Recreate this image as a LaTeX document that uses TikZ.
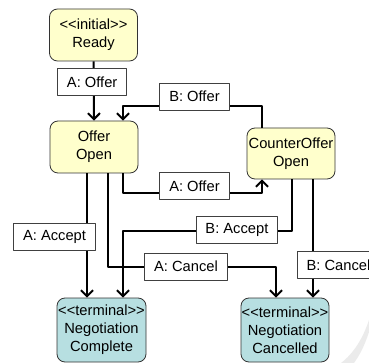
\documentclass[tikz,border=0pt]{standalone}
\usepackage{fontspec}
\setmainfont{Liberation Sans}
\usetikzlibrary{arrows.meta}

\definecolor{stateyellow}{RGB}{255,255,204}
\definecolor{statecyan}{RGB}{183,223,225}

\begin{document}
\begin{tikzpicture}[x=1pt, y=-1pt, line join=round,
  state/.style={draw=black!80, line width=0.8pt, rounded corners=8pt, align=center,
    inner sep=0pt, minimum width=88pt, font=\fontsize{14.7}{18}\selectfont},
  lbl/.style={draw=black!75, fill=white, line width=0.8pt, inner xsep=9.5pt, inner ysep=0pt,
    minimum height=27pt, font=\fontsize{14.7}{18}\selectfont},
  flow/.style={line width=2pt, -{Straight Barb[width=12pt,length=6pt]}}]
  % ── 画布：369 x 363，右边 B: Cancel 的框被裁掉 ──
  \clip (0,0) rectangle (369,363);
  \def\stereo#1{<\kern0pt<#1>\kern0pt>}

  % ── 页角的淡灰阴影 ──
  \fill[black!8] (369,320) .. controls (363,338) and (354,353) .. (341,363)
    -- (354,363) .. controls (362,352) and (366,341) .. (369,332) -- cycle;

  % ── 状态 ──
  \node[state, fill=stateyellow, minimum height=52pt] (ready) at (93.5,35) {\stereo{initial}\\Ready};
  \node[state, fill=stateyellow, minimum height=52pt] (offer) at (94,147) {Offer\\Open};
  \node[state, fill=stateyellow, minimum height=51pt] (counter) at (291,153.5) {CounterOffer\\Open};
  \node[state, fill=statecyan, minimum width=89pt, minimum height=64pt] (complete) at (101.5,330)
    {\stereo{terminal}\\Negotiation\\Complete};
  \node[state, fill=statecyan, minimum height=64pt] (cancelled) at (285,330)
    {\stereo{terminal}\\Negotiation\\Cancelled};

  % ── 迁移：折线 + 标签（标签压在线上）──
  \draw[flow] (ready.south) -- node[lbl, pos=.35, xshift=-1.5pt] {A: Offer} (offer.north);
  \draw[flow] ([xshift=-29pt]counter.north) -- ([xshift=-29pt, yshift=22pt]counter.north)
    -| node[lbl, pos=.243, yshift=9pt] {B: Offer} ([xshift=29pt]offer.north);
  \draw[flow] ([xshift=29pt]offer.south) -- ([xshift=29pt, yshift=-20pt]offer.south)
    -| node[lbl, pos=.257, yshift=7.5pt] {A: Offer} ([xshift=-29pt]counter.south);
  \draw[flow] ([xshift=-7pt]offer.south)
    -- node[lbl, pos=.51, xshift=-32.5pt] {A: Accept} ([xshift=-7pt]offer.south |- complete.north);
  \draw[flow] ([xshift=1pt]counter.south) -- ([xshift=1pt, yshift=-52pt]counter.south)
    -| node[lbl, pos=.163, yshift=1.5pt] {B: Accept} ([xshift=21.5pt]complete.north);
  \draw[flow] ([xshift=14pt]offer.south) -- ([xshift=14pt, yshift=-94pt]offer.south)
    -| node[lbl, pos=.232, yshift=1pt] {A: Cancel} ([xshift=-9pt]cancelled.north);
  \draw[flow] ([xshift=22pt]counter.south)
    -- node[lbl, pos=.727, xshift=25.5pt] {B: Cancel} ([xshift=22pt]counter.south |- cancelled.north);
\end{tikzpicture}
\end{document}
